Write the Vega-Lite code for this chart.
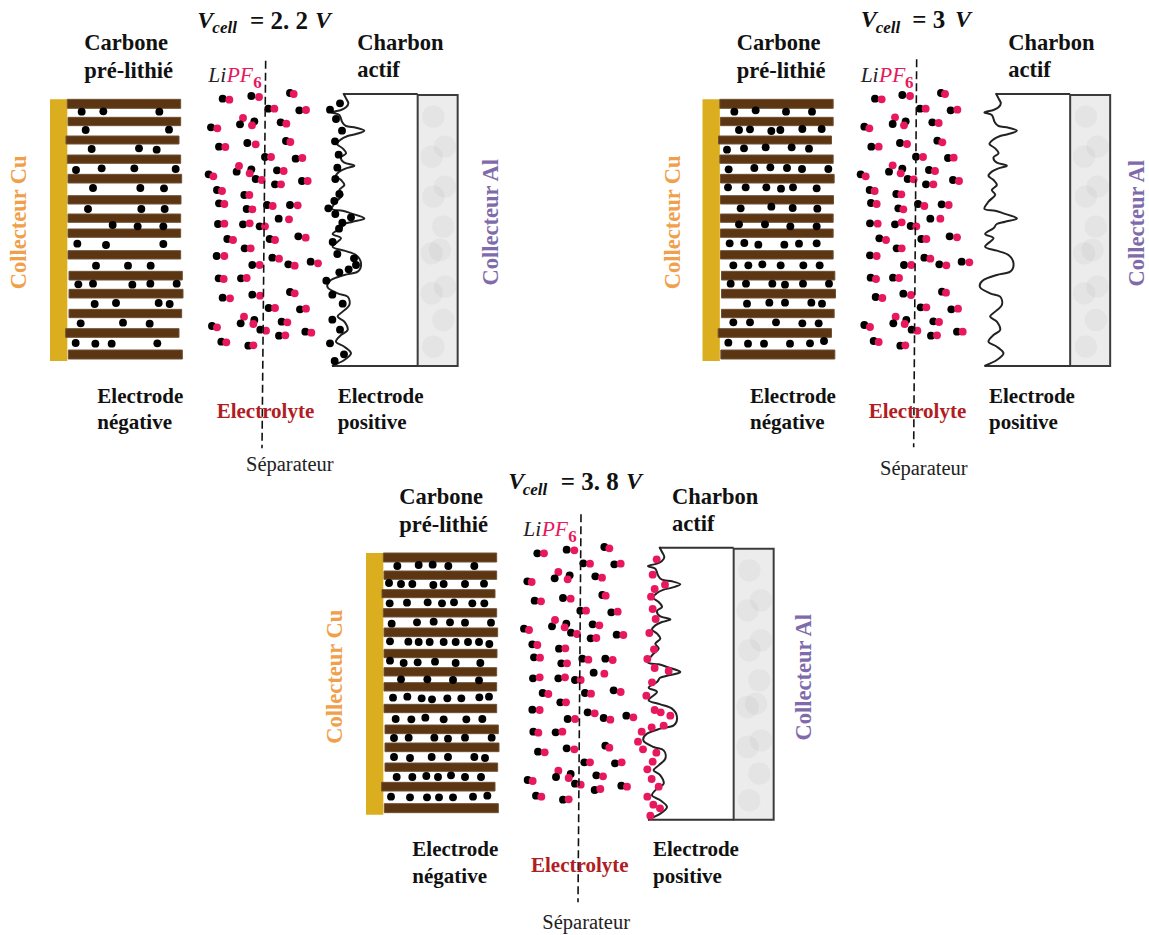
{"$schema":"https://vega.github.io/schema/vega-lite/v6.json","width":1149,"height":935,"padding":0,"autosize":{"type":"none"},"background":"white","config":{"view":{"stroke":null}},
"datasets":{
"collector":[{"x":150,"x2":202,"y":298,"y2":1083}],
"bars":[{"x":202,"x2":542,"y":298,"y2":325},{"x":204,"x2":542,"y":352,"y2":377},{"x":198,"x2":537,"y":408,"y2":432},{"x":202,"x2":542,"y":465,"y2":490},{"x":204,"x2":545,"y":523,"y2":549},{"x":204,"x2":543,"y":587,"y2":612},{"x":204,"x2":542,"y":642,"y2":667},{"x":204,"x2":542,"y":687,"y2":712},{"x":204,"x2":542,"y":752,"y2":777},{"x":207,"x2":547,"y":814,"y2":840},{"x":207,"x2":549,"y":868,"y2":894},{"x":207,"x2":545,"y":928,"y2":953},{"x":197,"x2":537,"y":986,"y2":1012},{"x":205,"x2":547,"y":1050,"y2":1077}],
"white":[{"x":1030,"x2":1253,"y":282,"y2":1098}],
"al":[{"x":1253,"x2":1373,"y":285,"y2":1098}],
"marble":[{"x":1300,"y":350},{"x":1335,"y":440},{"x":1295,"y":470},{"x":1300,"y":590},{"x":1330,"y":680},{"x":1320,"y":750},{"x":1335,"y":860},{"x":1295,"y":880},{"x":1330,"y":960},{"x":1300,"y":1040},{"x":1335,"y":560},{"x":1295,"y":760}],
"edges":[{"x":1030,"x2":1253,"y":282,"y2":282},{"x":996,"x2":1253,"y":1098,"y2":1098}],
"curve":[{"i":1,"x":1030,"y":280},{"i":2,"x":1038,"y":295},{"i":3,"x":1045,"y":310},{"i":4,"x":1038,"y":322},{"i":5,"x":1023,"y":330},{"i":6,"x":996,"y":337},{"i":7,"x":1018,"y":345},{"i":8,"x":1026,"y":365},{"i":9,"x":1038,"y":378},{"i":10,"x":1068,"y":383},{"i":11,"x":1093,"y":392},{"i":12,"x":1068,"y":402},{"i":13,"x":1043,"y":408},{"i":14,"x":1023,"y":418},{"i":15,"x":1011,"y":432},{"i":16,"x":1028,"y":445},{"i":17,"x":1038,"y":460},{"i":18,"x":1023,"y":472},{"i":19,"x":1033,"y":488},{"i":20,"x":1063,"y":497},{"i":21,"x":1038,"y":505},{"i":22,"x":1018,"y":515},{"i":23,"x":1008,"y":528},{"i":24,"x":1023,"y":540},{"i":25,"x":1033,"y":555},{"i":26,"x":1018,"y":570},{"i":27,"x":1028,"y":585},{"i":28,"x":1008,"y":605},{"i":29,"x":996,"y":627},{"i":30,"x":1028,"y":632},{"i":31,"x":1053,"y":640},{"i":32,"x":1093,"y":655},{"i":33,"x":1058,"y":665},{"i":34,"x":1033,"y":672},{"i":35,"x":1023,"y":685},{"i":36,"x":998,"y":702},{"i":37,"x":1023,"y":715},{"i":38,"x":998,"y":740},{"i":39,"x":1033,"y":752},{"i":40,"x":1068,"y":765},{"i":41,"x":1083,"y":790},{"i":42,"x":1073,"y":815},{"i":43,"x":1033,"y":825},{"i":44,"x":993,"y":840},{"i":45,"x":983,"y":862},{"i":46,"x":1013,"y":880},{"i":47,"x":1043,"y":890},{"i":48,"x":1048,"y":915},{"i":49,"x":1028,"y":935},{"i":50,"x":1013,"y":950},{"i":51,"x":1033,"y":965},{"i":52,"x":1043,"y":990},{"i":53,"x":1023,"y":1005},{"i":54,"x":1008,"y":1025},{"i":55,"x":1033,"y":1040},{"i":56,"x":1053,"y":1060},{"i":57,"x":1033,"y":1080},{"i":58,"x":996,"y":1098}],
"d1":[{"x":245,"y":335,"k":"n"},{"x":310,"y":334,"k":"n"},{"x":478,"y":335,"k":"n"},{"x":257,"y":390,"k":"n"},{"x":507,"y":389,"k":"n"},{"x":275,"y":447,"k":"n"},{"x":417,"y":445,"k":"n"},{"x":470,"y":449,"k":"n"},{"x":228,"y":510,"k":"n"},{"x":305,"y":505,"k":"n"},{"x":403,"y":505,"k":"n"},{"x":527,"y":507,"k":"n"},{"x":279,"y":564,"k":"n"},{"x":421,"y":564,"k":"n"},{"x":492,"y":565,"k":"n"},{"x":264,"y":627,"k":"n"},{"x":424,"y":627,"k":"n"},{"x":494,"y":627,"k":"n"},{"x":338,"y":675,"k":"n"},{"x":413,"y":679,"k":"n"},{"x":490,"y":679,"k":"n"},{"x":232,"y":731,"k":"n"},{"x":318,"y":735,"k":"n"},{"x":490,"y":732,"k":"n"},{"x":288,"y":797,"k":"n"},{"x":384,"y":797,"k":"n"},{"x":452,"y":797,"k":"n"},{"x":235,"y":853,"k":"n"},{"x":279,"y":851,"k":"n"},{"x":397,"y":854,"k":"n"},{"x":451,"y":851,"k":"n"},{"x":530,"y":851,"k":"n"},{"x":284,"y":912,"k":"n"},{"x":348,"y":909,"k":"n"},{"x":476,"y":909,"k":"n"},{"x":509,"y":912,"k":"n"},{"x":242,"y":970,"k":"n"},{"x":369,"y":968,"k":"n"},{"x":449,"y":971,"k":"n"},{"x":227,"y":1029,"k":"n"},{"x":286,"y":1031,"k":"n"},{"x":335,"y":1031,"k":"n"},{"x":472,"y":1030,"k":"n"},
{"x":668,"y":296,"k":"n"},{"x":688,"y":299,"k":"p"},{"x":754,"y":288,"k":"n"},{"x":777,"y":291,"k":"p"},{"x":870,"y":279,"k":"n"},{"x":881,"y":282,"k":"p"},{"x":805,"y":326,"k":"n"},{"x":823,"y":326,"k":"p"},{"x":898,"y":331,"k":"n"},{"x":918,"y":330,"k":"p"},{"x":763,"y":364,"k":"n"},{"x":729,"y":354,"k":"p"},{"x":720,"y":373,"k":"n"},{"x":756,"y":376,"k":"p"},{"x":842,"y":367,"k":"n"},{"x":859,"y":371,"k":"p"},{"x":633,"y":382,"k":"n"},{"x":652,"y":385,"k":"p"},{"x":657,"y":440,"k":"n"},{"x":676,"y":441,"k":"p"},{"x":742,"y":429,"k":"n"},{"x":767,"y":433,"k":"p"},{"x":858,"y":423,"k":"n"},{"x":871,"y":426,"k":"p"},{"x":795,"y":471,"k":"n"},{"x":813,"y":471,"k":"p"},{"x":887,"y":476,"k":"n"},{"x":907,"y":474,"k":"p"},{"x":710,"y":515,"k":"n"},{"x":717,"y":498,"k":"p"},{"x":754,"y":508,"k":"n"},{"x":749,"y":520,"k":"p"},{"x":626,"y":523,"k":"n"},{"x":640,"y":529,"k":"p"},{"x":831,"y":511,"k":"n"},{"x":851,"y":513,"k":"p"},{"x":767,"y":537,"k":"n"},{"x":785,"y":540,"k":"p"},{"x":825,"y":553,"k":"n"},{"x":843,"y":553,"k":"p"},{"x":906,"y":543,"k":"n"},{"x":923,"y":543,"k":"p"},{"x":651,"y":570,"k":"n"},{"x":666,"y":573,"k":"p"},{"x":733,"y":585,"k":"n"},{"x":748,"y":585,"k":"p"},{"x":657,"y":610,"k":"n"},{"x":673,"y":612,"k":"p"},{"x":740,"y":627,"k":"n"},{"x":757,"y":628,"k":"p"},{"x":801,"y":615,"k":"n"},{"x":818,"y":618,"k":"p"},{"x":870,"y":615,"k":"n"},{"x":893,"y":616,"k":"p"},{"x":654,"y":672,"k":"n"},{"x":673,"y":671,"k":"p"},{"x":729,"y":673,"k":"n"},{"x":749,"y":670,"k":"p"},{"x":779,"y":679,"k":"n"},{"x":795,"y":679,"k":"p"},{"x":836,"y":656,"k":"n"},{"x":867,"y":658,"k":"p"},{"x":682,"y":717,"k":"n"},{"x":699,"y":720,"k":"p"},{"x":809,"y":717,"k":"n"},{"x":825,"y":720,"k":"p"},{"x":895,"y":709,"k":"n"},{"x":917,"y":713,"k":"p"},{"x":734,"y":745,"k":"n"},{"x":752,"y":745,"k":"p"},{"x":650,"y":768,"k":"n"},{"x":673,"y":768,"k":"p"},{"x":817,"y":773,"k":"n"},{"x":837,"y":776,"k":"p"},{"x":865,"y":793,"k":"n"},{"x":884,"y":797,"k":"p"},{"x":757,"y":795,"k":"n"},{"x":779,"y":795,"k":"p"},{"x":932,"y":785,"k":"n"},{"x":954,"y":790,"k":"p"},{"x":656,"y":835,"k":"n"},{"x":671,"y":837,"k":"p"},{"x":723,"y":835,"k":"n"},{"x":740,"y":834,"k":"p"},{"x":668,"y":893,"k":"n"},{"x":690,"y":895,"k":"p"},{"x":757,"y":884,"k":"n"},{"x":780,"y":887,"k":"p"},{"x":870,"y":876,"k":"n"},{"x":884,"y":880,"k":"p"},{"x":806,"y":924,"k":"n"},{"x":825,"y":924,"k":"p"},{"x":900,"y":928,"k":"n"},{"x":918,"y":926,"k":"p"},{"x":763,"y":960,"k":"n"},{"x":732,"y":950,"k":"p"},{"x":722,"y":970,"k":"n"},{"x":760,"y":972,"k":"p"},{"x":845,"y":965,"k":"n"},{"x":862,"y":967,"k":"p"},{"x":636,"y":978,"k":"n"},{"x":651,"y":982,"k":"p"},{"x":781,"y":989,"k":"n"},{"x":798,"y":992,"k":"p"},{"x":837,"y":1007,"k":"n"},{"x":856,"y":1006,"k":"p"},{"x":916,"y":995,"k":"n"},{"x":934,"y":998,"k":"p"},{"x":664,"y":1025,"k":"n"},{"x":679,"y":1027,"k":"p"},{"x":745,"y":1037,"k":"n"},{"x":760,"y":1036,"k":"p"},
{"x":1020,"y":310,"k":"n"},{"x":990,"y":329,"k":"n"},{"x":1008,"y":357,"k":"n"},{"x":1026,"y":392,"k":"n"},{"x":1005,"y":424,"k":"n"},{"x":1016,"y":464,"k":"n"},{"x":1012,"y":503,"k":"n"},{"x":1006,"y":537,"k":"n"},{"x":1018,"y":582,"k":"n"},{"x":1003,"y":603,"k":"n"},{"x":985,"y":625,"k":"n"},{"x":1006,"y":642,"k":"n"},{"x":1053,"y":652,"k":"n"},{"x":1027,"y":668,"k":"n"},{"x":1017,"y":686,"k":"n"},{"x":998,"y":726,"k":"n"},{"x":1012,"y":762,"k":"n"},{"x":1062,"y":775,"k":"n"},{"x":1068,"y":795,"k":"n"},{"x":1046,"y":808,"k":"n"},{"x":1018,"y":817,"k":"n"},{"x":979,"y":842,"k":"n"},{"x":997,"y":884,"k":"n"},{"x":1028,"y":911,"k":"n"},{"x":997,"y":959,"k":"n"},{"x":1020,"y":989,"k":"n"},{"x":990,"y":1030,"k":"n"},{"x":1032,"y":1063,"k":"n"},{"x":1004,"y":1083,"k":"n"}],
"d2":[{"x":253,"y":335,"k":"n"},{"x":317,"y":331,"k":"n"},{"x":408,"y":335,"k":"n"},{"x":486,"y":335,"k":"n"},{"x":267,"y":390,"k":"n"},{"x":300,"y":388,"k":"n"},{"x":364,"y":393,"k":"n"},{"x":391,"y":390,"k":"n"},{"x":457,"y":387,"k":"n"},{"x":515,"y":387,"k":"n"},{"x":231,"y":449,"k":"n"},{"x":282,"y":445,"k":"n"},{"x":347,"y":442,"k":"n"},{"x":425,"y":442,"k":"n"},{"x":477,"y":446,"k":"n"},{"x":236,"y":508,"k":"n"},{"x":313,"y":504,"k":"n"},{"x":361,"y":502,"k":"n"},{"x":411,"y":504,"k":"n"},{"x":456,"y":507,"k":"n"},{"x":535,"y":507,"k":"n"},{"x":234,"y":562,"k":"n"},{"x":287,"y":562,"k":"n"},{"x":349,"y":562,"k":"n"},{"x":393,"y":566,"k":"n"},{"x":429,"y":562,"k":"n"},{"x":500,"y":565,"k":"n"},{"x":272,"y":625,"k":"n"},{"x":364,"y":620,"k":"n"},{"x":428,"y":624,"k":"n"},{"x":502,"y":626,"k":"n"},{"x":267,"y":673,"k":"n"},{"x":345,"y":673,"k":"n"},{"x":421,"y":679,"k":"n"},{"x":500,"y":679,"k":"n"},{"x":239,"y":730,"k":"n"},{"x":283,"y":729,"k":"n"},{"x":325,"y":734,"k":"n"},{"x":403,"y":734,"k":"n"},{"x":447,"y":731,"k":"n"},{"x":500,"y":730,"k":"n"},{"x":250,"y":796,"k":"n"},{"x":295,"y":796,"k":"n"},{"x":337,"y":793,"k":"n"},{"x":392,"y":796,"k":"n"},{"x":460,"y":796,"k":"n"},{"x":509,"y":796,"k":"n"},{"x":242,"y":851,"k":"n"},{"x":288,"y":851,"k":"n"},{"x":367,"y":851,"k":"n"},{"x":405,"y":854,"k":"n"},{"x":459,"y":851,"k":"n"},{"x":537,"y":851,"k":"n"},{"x":291,"y":911,"k":"n"},{"x":358,"y":908,"k":"n"},{"x":405,"y":908,"k":"n"},{"x":484,"y":908,"k":"n"},{"x":516,"y":911,"k":"n"},{"x":250,"y":967,"k":"n"},{"x":300,"y":967,"k":"n"},{"x":378,"y":967,"k":"n"},{"x":457,"y":970,"k":"n"},{"x":506,"y":970,"k":"n"},{"x":235,"y":1028,"k":"n"},{"x":294,"y":1031,"k":"n"},{"x":342,"y":1031,"k":"n"},{"x":420,"y":1031,"k":"n"},{"x":480,"y":1030,"k":"n"},{"x":522,"y":1023,"k":"n"},
{"x":675,"y":296,"k":"n"},{"x":695,"y":298,"k":"p"},{"x":757,"y":285,"k":"n"},{"x":780,"y":288,"k":"p"},{"x":873,"y":279,"k":"n"},{"x":885,"y":282,"k":"p"},{"x":810,"y":326,"k":"n"},{"x":827,"y":326,"k":"p"},{"x":902,"y":331,"k":"n"},{"x":922,"y":329,"k":"p"},{"x":767,"y":364,"k":"n"},{"x":735,"y":352,"k":"p"},{"x":728,"y":372,"k":"n"},{"x":762,"y":376,"k":"p"},{"x":847,"y":367,"k":"n"},{"x":866,"y":369,"k":"p"},{"x":643,"y":380,"k":"n"},{"x":658,"y":385,"k":"p"},{"x":664,"y":440,"k":"n"},{"x":686,"y":440,"k":"p"},{"x":750,"y":429,"k":"n"},{"x":771,"y":432,"k":"p"},{"x":862,"y":422,"k":"n"},{"x":877,"y":427,"k":"p"},{"x":798,"y":470,"k":"n"},{"x":819,"y":471,"k":"p"},{"x":894,"y":474,"k":"n"},{"x":911,"y":473,"k":"p"},{"x":717,"y":515,"k":"n"},{"x":728,"y":496,"k":"p"},{"x":757,"y":506,"k":"n"},{"x":752,"y":520,"k":"p"},{"x":632,"y":523,"k":"n"},{"x":647,"y":529,"k":"p"},{"x":837,"y":510,"k":"n"},{"x":855,"y":513,"k":"p"},{"x":773,"y":537,"k":"n"},{"x":791,"y":538,"k":"p"},{"x":828,"y":553,"k":"n"},{"x":850,"y":553,"k":"p"},{"x":909,"y":540,"k":"n"},{"x":927,"y":543,"k":"p"},{"x":659,"y":570,"k":"n"},{"x":674,"y":573,"k":"p"},{"x":739,"y":582,"k":"n"},{"x":754,"y":583,"k":"p"},{"x":663,"y":609,"k":"n"},{"x":680,"y":612,"k":"p"},{"x":745,"y":625,"k":"n"},{"x":760,"y":628,"k":"p"},{"x":804,"y":612,"k":"n"},{"x":823,"y":618,"k":"p"},{"x":875,"y":613,"k":"n"},{"x":896,"y":615,"k":"p"},{"x":660,"y":670,"k":"n"},{"x":683,"y":671,"k":"p"},{"x":735,"y":673,"k":"n"},{"x":755,"y":667,"k":"p"},{"x":782,"y":678,"k":"n"},{"x":799,"y":679,"k":"p"},{"x":841,"y":656,"k":"n"},{"x":871,"y":656,"k":"p"},{"x":688,"y":715,"k":"n"},{"x":708,"y":720,"k":"p"},{"x":814,"y":717,"k":"n"},{"x":829,"y":717,"k":"p"},{"x":899,"y":709,"k":"n"},{"x":921,"y":712,"k":"p"},{"x":740,"y":745,"k":"n"},{"x":755,"y":745,"k":"p"},{"x":660,"y":766,"k":"n"},{"x":680,"y":768,"k":"p"},{"x":823,"y":773,"k":"n"},{"x":841,"y":776,"k":"p"},{"x":868,"y":793,"k":"n"},{"x":889,"y":796,"k":"p"},{"x":762,"y":795,"k":"n"},{"x":784,"y":795,"k":"p"},{"x":935,"y":785,"k":"n"},{"x":958,"y":787,"k":"p"},{"x":662,"y":833,"k":"n"},{"x":678,"y":837,"k":"p"},{"x":729,"y":833,"k":"n"},{"x":747,"y":834,"k":"p"},{"x":677,"y":891,"k":"n"},{"x":697,"y":894,"k":"p"},{"x":760,"y":881,"k":"n"},{"x":783,"y":885,"k":"p"},{"x":876,"y":875,"k":"n"},{"x":888,"y":878,"k":"p"},{"x":812,"y":922,"k":"n"},{"x":829,"y":922,"k":"p"},{"x":904,"y":928,"k":"n"},{"x":924,"y":926,"k":"p"},{"x":769,"y":960,"k":"n"},{"x":737,"y":950,"k":"p"},{"x":730,"y":970,"k":"n"},{"x":764,"y":972,"k":"p"},{"x":850,"y":964,"k":"n"},{"x":867,"y":966,"k":"p"},{"x":643,"y":975,"k":"n"},{"x":660,"y":981,"k":"p"},{"x":785,"y":989,"k":"n"},{"x":802,"y":992,"k":"p"},{"x":843,"y":1007,"k":"n"},{"x":861,"y":1006,"k":"p"},{"x":921,"y":995,"k":"n"},{"x":938,"y":995,"k":"p"},{"x":671,"y":1023,"k":"n"},{"x":686,"y":1026,"k":"p"},{"x":751,"y":1037,"k":"n"},{"x":766,"y":1036,"k":"p"}],
"d3":[{"x":232,"y":303,"k":"n"},{"x":296,"y":300,"k":"n"},{"x":338,"y":299,"k":"n"},{"x":385,"y":303,"k":"n"},{"x":463,"y":303,"k":"n"},{"x":207,"y":354,"k":"n"},{"x":243,"y":357,"k":"n"},{"x":277,"y":357,"k":"n"},{"x":340,"y":360,"k":"n"},{"x":371,"y":357,"k":"n"},{"x":435,"y":357,"k":"n"},{"x":492,"y":356,"k":"n"},{"x":209,"y":415,"k":"n"},{"x":261,"y":413,"k":"n"},{"x":323,"y":412,"k":"n"},{"x":366,"y":415,"k":"n"},{"x":402,"y":412,"k":"n"},{"x":457,"y":415,"k":"n"},{"x":493,"y":415,"k":"n"},{"x":215,"y":476,"k":"n"},{"x":291,"y":472,"k":"n"},{"x":341,"y":470,"k":"n"},{"x":390,"y":472,"k":"n"},{"x":435,"y":473,"k":"n"},{"x":513,"y":473,"k":"n"},{"x":210,"y":529,"k":"n"},{"x":265,"y":530,"k":"n"},{"x":296,"y":531,"k":"n"},{"x":329,"y":531,"k":"n"},{"x":371,"y":531,"k":"n"},{"x":407,"y":531,"k":"n"},{"x":444,"y":531,"k":"n"},{"x":477,"y":531,"k":"n"},{"x":508,"y":537,"k":"n"},{"x":210,"y":587,"k":"n"},{"x":251,"y":594,"k":"n"},{"x":293,"y":592,"k":"n"},{"x":345,"y":590,"k":"n"},{"x":407,"y":594,"k":"n"},{"x":481,"y":594,"k":"n"},{"x":243,"y":643,"k":"n"},{"x":322,"y":643,"k":"n"},{"x":399,"y":645,"k":"n"},{"x":477,"y":646,"k":"n"},{"x":219,"y":698,"k":"n"},{"x":262,"y":695,"k":"n"},{"x":305,"y":700,"k":"n"},{"x":336,"y":703,"k":"n"},{"x":382,"y":700,"k":"n"},{"x":424,"y":700,"k":"n"},{"x":478,"y":697,"k":"n"},{"x":507,"y":695,"k":"n"},{"x":227,"y":762,"k":"n"},{"x":274,"y":763,"k":"n"},{"x":316,"y":758,"k":"n"},{"x":371,"y":763,"k":"n"},{"x":439,"y":763,"k":"n"},{"x":487,"y":762,"k":"n"},{"x":222,"y":819,"k":"n"},{"x":266,"y":818,"k":"n"},{"x":343,"y":818,"k":"n"},{"x":384,"y":821,"k":"n"},{"x":435,"y":818,"k":"n"},{"x":515,"y":818,"k":"n"},{"x":222,"y":876,"k":"n"},{"x":270,"y":879,"k":"n"},{"x":335,"y":876,"k":"n"},{"x":384,"y":876,"k":"n"},{"x":463,"y":876,"k":"n"},{"x":495,"y":879,"k":"n"},{"x":230,"y":936,"k":"n"},{"x":277,"y":936,"k":"n"},{"x":319,"y":933,"k":"n"},{"x":354,"y":936,"k":"n"},{"x":393,"y":931,"k":"n"},{"x":435,"y":936,"k":"n"},{"x":483,"y":936,"k":"n"},{"x":213,"y":995,"k":"n"},{"x":270,"y":997,"k":"n"},{"x":321,"y":997,"k":"n"},{"x":357,"y":997,"k":"n"},{"x":399,"y":997,"k":"n"},{"x":459,"y":995,"k":"n"},{"x":502,"y":992,"k":"n"},
{"x":652,"y":265,"k":"n"},{"x":672,"y":265,"k":"p"},{"x":740,"y":254,"k":"n"},{"x":763,"y":256,"k":"p"},{"x":853,"y":246,"k":"n"},{"x":868,"y":250,"k":"p"},{"x":790,"y":295,"k":"n"},{"x":810,"y":296,"k":"p"},{"x":883,"y":298,"k":"n"},{"x":902,"y":296,"k":"p"},{"x":749,"y":331,"k":"n"},{"x":715,"y":321,"k":"p"},{"x":704,"y":340,"k":"n"},{"x":743,"y":343,"k":"p"},{"x":826,"y":334,"k":"n"},{"x":846,"y":338,"k":"p"},{"x":622,"y":349,"k":"n"},{"x":635,"y":351,"k":"p"},{"x":644,"y":407,"k":"n"},{"x":663,"y":409,"k":"p"},{"x":729,"y":399,"k":"n"},{"x":752,"y":401,"k":"p"},{"x":847,"y":390,"k":"n"},{"x":857,"y":392,"k":"p"},{"x":781,"y":437,"k":"n"},{"x":798,"y":437,"k":"p"},{"x":874,"y":442,"k":"n"},{"x":893,"y":440,"k":"p"},{"x":696,"y":484,"k":"n"},{"x":705,"y":465,"k":"p"},{"x":739,"y":476,"k":"n"},{"x":734,"y":487,"k":"p"},{"x":612,"y":491,"k":"n"},{"x":627,"y":495,"k":"p"},{"x":818,"y":478,"k":"n"},{"x":838,"y":481,"k":"p"},{"x":753,"y":503,"k":"n"},{"x":771,"y":507,"k":"p"},{"x":812,"y":520,"k":"n"},{"x":829,"y":519,"k":"p"},{"x":890,"y":509,"k":"n"},{"x":910,"y":510,"k":"p"},{"x":637,"y":538,"k":"n"},{"x":652,"y":540,"k":"p"},{"x":717,"y":551,"k":"n"},{"x":736,"y":550,"k":"p"},{"x":642,"y":577,"k":"n"},{"x":660,"y":578,"k":"p"},{"x":724,"y":595,"k":"n"},{"x":741,"y":595,"k":"p"},{"x":787,"y":581,"k":"n"},{"x":805,"y":584,"k":"p"},{"x":856,"y":581,"k":"n"},{"x":878,"y":585,"k":"p"},{"x":639,"y":640,"k":"n"},{"x":659,"y":637,"k":"p"},{"x":715,"y":640,"k":"n"},{"x":735,"y":637,"k":"p"},{"x":765,"y":645,"k":"n"},{"x":782,"y":645,"k":"p"},{"x":821,"y":623,"k":"n"},{"x":853,"y":626,"k":"p"},{"x":668,"y":684,"k":"n"},{"x":685,"y":687,"k":"p"},{"x":795,"y":684,"k":"n"},{"x":813,"y":686,"k":"p"},{"x":881,"y":676,"k":"n"},{"x":902,"y":681,"k":"p"},{"x":721,"y":712,"k":"n"},{"x":738,"y":712,"k":"p"},{"x":637,"y":734,"k":"n"},{"x":659,"y":735,"k":"p"},{"x":803,"y":742,"k":"n"},{"x":824,"y":745,"k":"p"},{"x":851,"y":759,"k":"n"},{"x":871,"y":764,"k":"p"},{"x":743,"y":762,"k":"n"},{"x":765,"y":762,"k":"p"},{"x":919,"y":752,"k":"n"},{"x":940,"y":757,"k":"p"},{"x":640,"y":800,"k":"n"},{"x":655,"y":803,"k":"p"},{"x":707,"y":802,"k":"n"},{"x":727,"y":800,"k":"p"},{"x":654,"y":860,"k":"n"},{"x":674,"y":862,"k":"p"},{"x":740,"y":850,"k":"n"},{"x":763,"y":853,"k":"p"},{"x":856,"y":842,"k":"n"},{"x":868,"y":848,"k":"p"},{"x":793,"y":892,"k":"n"},{"x":810,"y":892,"k":"p"},{"x":885,"y":895,"k":"n"},{"x":905,"y":892,"k":"p"},{"x":752,"y":927,"k":"n"},{"x":715,"y":917,"k":"p"},{"x":708,"y":936,"k":"n"},{"x":746,"y":939,"k":"p"},{"x":829,"y":931,"k":"n"},{"x":849,"y":934,"k":"p"},{"x":623,"y":945,"k":"n"},{"x":638,"y":948,"k":"p"},{"x":765,"y":956,"k":"n"},{"x":782,"y":959,"k":"p"},{"x":824,"y":975,"k":"n"},{"x":841,"y":972,"k":"p"},{"x":904,"y":962,"k":"n"},{"x":921,"y":965,"k":"p"},{"x":648,"y":992,"k":"n"},{"x":664,"y":995,"k":"p"},{"x":729,"y":1004,"k":"n"},{"x":746,"y":1003,"k":"p"},
{"x":1010,"y":283,"k":"p"},{"x":998,"y":329,"k":"p"},{"x":1035,"y":359,"k":"p"},{"x":1004,"y":372,"k":"p"},{"x":993,"y":395,"k":"p"},{"x":998,"y":432,"k":"p"},{"x":1007,"y":462,"k":"p"},{"x":988,"y":504,"k":"p"},{"x":1002,"y":553,"k":"p"},{"x":982,"y":582,"k":"p"},{"x":1004,"y":609,"k":"p"},{"x":1046,"y":618,"k":"p"},{"x":996,"y":652,"k":"p"},{"x":979,"y":692,"k":"p"},{"x":1004,"y":735,"k":"p"},{"x":1022,"y":742,"k":"p"},{"x":1051,"y":752,"k":"p"},{"x":1031,"y":782,"k":"p"},{"x":995,"y":787,"k":"p"},{"x":965,"y":800,"k":"p"},{"x":954,"y":830,"k":"p"},{"x":969,"y":853,"k":"p"},{"x":1009,"y":863,"k":"p"},{"x":998,"y":890,"k":"p"},{"x":982,"y":913,"k":"p"},{"x":995,"y":942,"k":"p"},{"x":1016,"y":965,"k":"p"},{"x":982,"y":995,"k":"p"},{"x":1000,"y":1019,"k":"p"},{"x":1020,"y":1030,"k":"p"},{"x":991,"y":1052,"k":"p"}],
"sep":[{"x":797,"x2":786,"y":182,"y2":1345},{"x":2750,"x2":2741,"y":178,"y2":1342},{"x":1743,"x2":1734,"y":1543,"y2":2707}],
"big":[{"x":253,"y":128,"t":"Carbone"},{"x":253,"y":212,"t":"pré-lithié"},{"x":1072,"y":128,"t":"Charbon"},{"x":1072,"y":210,"t":"actif"},{"x":2210,"y":128,"t":"Carbone"},{"x":2210,"y":212,"t":"pré-lithié"},{"x":3025,"y":128,"t":"Charbon"},{"x":3025,"y":210,"t":"actif"},{"x":1198,"y":1492,"t":"Carbone"},{"x":1198,"y":1575,"t":"pré-lithié"},{"x":2016,"y":1492,"t":"Charbon"},{"x":2016,"y":1573,"t":"actif"}],
"mid":[{"x":292,"y":1190,"t":"Electrode"},{"x":292,"y":1268,"t":"négative"},{"x":1013,"y":1190,"t":"Electrode"},{"x":1013,"y":1268,"t":"positive"},{"x":2250,"y":1190,"t":"Electrode"},{"x":2250,"y":1268,"t":"négative"},{"x":2967,"y":1190,"t":"Electrode"},{"x":2967,"y":1268,"t":"positive"},{"x":1237,"y":2551,"t":"Electrode"},{"x":1237,"y":2630,"t":"négative"},{"x":1959,"y":2551,"t":"Electrode"},{"x":1959,"y":2630,"t":"positive"}],
"red":[{"x":650,"y":1236,"t":"Electrolyte"},{"x":2606,"y":1236,"t":"Electrolyte"},{"x":1593,"y":2599,"t":"Electrolyte"}],
"sepl":[{"x":738,"y":1395,"t":"Séparateur"},{"x":2640,"y":1408,"t":"Séparateur"},{"x":1627,"y":2770,"t":"Séparateur"}],
"cu":[{"x":58,"y":667,"t":"Collecteur Cu"},{"x":2018,"y":667,"t":"Collecteur Cu"},{"x":1006,"y":2030,"t":"Collecteur Cu"}],
"alt":[{"x":1473,"y":667,"t":"Collecteur Al"},{"x":3412,"y":670,"t":"Collecteur Al"},{"x":2413,"y":2032,"t":"Collecteur Al"}],
"vi":[{"x":592,"y":62,"t":"V"},{"x":945,"y":62,"t":"V"},{"x":2582,"y":60,"t":"V"},{"x":2865,"y":60,"t":"V"},{"x":1525,"y":1447,"t":"V"},{"x":1878,"y":1447,"t":"V"}],
"vs":[{"x":637,"y":85,"t":"cell"},{"x":2627,"y":83,"t":"cell"},{"x":1568,"y":1470,"t":"cell"}],
"vn":[{"x":750,"y":62,"t":"= 2. 2"},{"x":2737,"y":60,"t":"= 3"},{"x":1682,"y":1447,"t":"= 3. 8"}],
"li":[{"x":625,"y":228,"t":"Li"},{"x":2582,"y":228,"t":"Li"},{"x":1570,"y":1590,"t":"Li"}],
"pf":[{"x":680,"y":228,"t":"PF"},{"x":2637,"y":228,"t":"PF"},{"x":1625,"y":1590,"t":"PF"}],
"six":[{"x":760,"y":248,"t":"6"},{"x":2715,"y":248,"t":"6"},{"x":1705,"y":1610,"t":"6"}]
},
"resolve":{"scale":{"x":"independent","y":"independent"}},
"layer":[
{"encoding":{"x":{"field":"x","type":"quantitative","scale":{"domain":[0,3447]},"axis":null},"y":{"field":"y","type":"quantitative","scale":{"domain":[2805,0]},"axis":null}},
"layer":[
{"data":{"name":"collector"},"mark":{"type":"rect","fill":"#dbae20"},"encoding":{"x2":{"field":"x2"},"y2":{"field":"y2"}}},
{"data":{"name":"bars"},"mark":{"type":"rect","fill":"#5c3512","stroke":"#6f5236","strokeWidth":1},"encoding":{"x2":{"field":"x2"},"y2":{"field":"y2"}}},
{"data":{"name":"white"},"mark":{"type":"rect","fill":"#ffffff"},"encoding":{"x2":{"field":"x2"},"y2":{"field":"y2"}}},
{"data":{"name":"al"},"mark":{"type":"rect","fill":"#ececec","stroke":"#3c3c3c","strokeWidth":2},"encoding":{"x2":{"field":"x2"},"y2":{"field":"y2"}}},
{"data":{"name":"marble"},"mark":{"type":"point","filled":true,"size":500,"opacity":0.1,"color":"#a0a0a0"}},
{"data":{"name":"edges"},"mark":{"type":"rule","color":"#333333","strokeWidth":2},"encoding":{"x2":{"field":"x2"},"y2":{"field":"y2"}}},
{"data":{"name":"curve"},"mark":{"type":"line","color":"#222222","strokeWidth":2,"interpolate":"cardinal"},"encoding":{"order":{"field":"i"}}}
]},
{"encoding":{"x":{"field":"x","type":"quantitative","scale":{"domain":[-1957.5,1489.5]},"axis":null},"y":{"field":"y","type":"quantitative","scale":{"domain":[2805,0]},"axis":null}},
"layer":[
{"data":{"name":"collector"},"mark":{"type":"rect","fill":"#dbae20"},"encoding":{"x2":{"field":"x2"},"y2":{"field":"y2"}}},
{"data":{"name":"bars"},"mark":{"type":"rect","fill":"#5c3512","stroke":"#6f5236","strokeWidth":1},"encoding":{"x2":{"field":"x2"},"y2":{"field":"y2"}}},
{"data":{"name":"white"},"mark":{"type":"rect","fill":"#ffffff"},"encoding":{"x2":{"field":"x2"},"y2":{"field":"y2"}}},
{"data":{"name":"al"},"mark":{"type":"rect","fill":"#ececec","stroke":"#3c3c3c","strokeWidth":2},"encoding":{"x2":{"field":"x2"},"y2":{"field":"y2"}}},
{"data":{"name":"marble"},"mark":{"type":"point","filled":true,"size":500,"opacity":0.1,"color":"#a0a0a0"}},
{"data":{"name":"edges"},"mark":{"type":"rule","color":"#333333","strokeWidth":2},"encoding":{"x2":{"field":"x2"},"y2":{"field":"y2"}}},
{"data":{"name":"curve"},"mark":{"type":"line","color":"#222222","strokeWidth":2,"interpolate":"cardinal"},"encoding":{"order":{"field":"i"}}}
]},
{"encoding":{"x":{"field":"x","type":"quantitative","scale":{"domain":[-948,2499]},"axis":null},"y":{"field":"y","type":"quantitative","scale":{"domain":[1444,-1361]},"axis":null}},
"layer":[
{"data":{"name":"collector"},"mark":{"type":"rect","fill":"#dbae20"},"encoding":{"x2":{"field":"x2"},"y2":{"field":"y2"}}},
{"data":{"name":"bars"},"mark":{"type":"rect","fill":"#5c3512","stroke":"#6f5236","strokeWidth":1},"encoding":{"x2":{"field":"x2"},"y2":{"field":"y2"}}},
{"data":{"name":"white"},"mark":{"type":"rect","fill":"#ffffff"},"encoding":{"x2":{"field":"x2"},"y2":{"field":"y2"}}},
{"data":{"name":"al"},"mark":{"type":"rect","fill":"#ececec","stroke":"#3c3c3c","strokeWidth":2},"encoding":{"x2":{"field":"x2"},"y2":{"field":"y2"}}},
{"data":{"name":"marble"},"mark":{"type":"point","filled":true,"size":500,"opacity":0.1,"color":"#a0a0a0"}},
{"data":{"name":"edges"},"mark":{"type":"rule","color":"#333333","strokeWidth":2},"encoding":{"x2":{"field":"x2"},"y2":{"field":"y2"}}},
{"data":{"name":"curve"},"mark":{"type":"line","color":"#222222","strokeWidth":2,"interpolate":"cardinal"},"encoding":{"order":{"field":"i"}}}
]},
{"data":{"name":"d1"},"mark":{"type":"point","filled":true,"size":62,"opacity":1},"encoding":{"x":{"field":"x","type":"quantitative","scale":{"domain":[0,3447]},"axis":null},"y":{"field":"y","type":"quantitative","scale":{"domain":[2805,0]},"axis":null},"color":{"field":"k","type":"nominal","legend":null,"scale":{"domain":["n","p"],"range":["#000000","#e8185e"]}}}},
{"data":{"name":"d2"},"mark":{"type":"point","filled":true,"size":62,"opacity":1},"encoding":{"x":{"field":"x","type":"quantitative","scale":{"domain":[-1950,1497]},"axis":null},"y":{"field":"y","type":"quantitative","scale":{"domain":[2805,0]},"axis":null},"color":{"field":"k","type":"nominal","legend":null,"scale":{"domain":["n","p"],"range":["#000000","#e8185e"]}}}},
{"data":{"name":"d3"},"mark":{"type":"point","filled":true,"size":62,"opacity":1},"encoding":{"x":{"field":"x","type":"quantitative","scale":{"domain":[-960,2487]},"axis":null},"y":{"field":"y","type":"quantitative","scale":{"domain":[1410,-1395]},"axis":null},"color":{"field":"k","type":"nominal","legend":null,"scale":{"domain":["n","p"],"range":["#000000","#e8185e"]}}}},
{"encoding":{"x":{"field":"x","type":"quantitative","scale":{"domain":[0,3447]},"axis":null},"y":{"field":"y","type":"quantitative","scale":{"domain":[2805,0]},"axis":null}},
"layer":[
{"data":{"name":"sep"},"mark":{"type":"rule","color":"#111111","strokeWidth":1.6,"strokeDash":[8,4]},"encoding":{"x2":{"field":"x2"},"y2":{"field":"y2"}}},
{"data":{"name":"big"},"mark":{"type":"text","align":"left","baseline":"middle","font":"Liberation Serif","fontWeight":"bold","fontSize":22.5,"color":"#111111"},"encoding":{"text":{"field":"t"}}},
{"data":{"name":"mid"},"mark":{"type":"text","align":"left","baseline":"middle","font":"Liberation Serif","fontWeight":"bold","fontSize":21,"color":"#111111"},"encoding":{"text":{"field":"t"}}},
{"data":{"name":"red"},"mark":{"type":"text","align":"left","baseline":"middle","font":"Liberation Serif","fontWeight":"bold","fontSize":21,"color":"#b01e23"},"encoding":{"text":{"field":"t"}}},
{"data":{"name":"sepl"},"mark":{"type":"text","align":"left","baseline":"middle","font":"Liberation Serif","fontSize":20.5,"color":"#222222"},"encoding":{"text":{"field":"t"}}},
{"data":{"name":"cu"},"mark":{"type":"text","align":"center","baseline":"middle","angle":270,"font":"Liberation Serif","fontWeight":"bold","fontSize":22.5,"color":"#f0a04b"},"encoding":{"text":{"field":"t"}}},
{"data":{"name":"alt"},"mark":{"type":"text","align":"center","baseline":"middle","angle":270,"font":"Liberation Serif","fontWeight":"bold","fontSize":22.5,"color":"#7f6bab"},"encoding":{"text":{"field":"t"}}},
{"data":{"name":"vi"},"mark":{"type":"text","align":"left","baseline":"middle","font":"Liberation Serif","fontWeight":"bold","fontStyle":"italic","fontSize":24,"color":"#111111"},"encoding":{"text":{"field":"t"}}},
{"data":{"name":"vs"},"mark":{"type":"text","align":"left","baseline":"middle","font":"Liberation Serif","fontWeight":"bold","fontStyle":"italic","fontSize":17,"color":"#111111"},"encoding":{"text":{"field":"t"}}},
{"data":{"name":"vn"},"mark":{"type":"text","align":"left","baseline":"middle","font":"Liberation Serif","fontWeight":"bold","fontSize":25,"color":"#111111"},"encoding":{"text":{"field":"t"}}},
{"data":{"name":"li"},"mark":{"type":"text","align":"left","baseline":"middle","font":"Liberation Serif","fontStyle":"italic","fontSize":21.5,"color":"#222222"},"encoding":{"text":{"field":"t"}}},
{"data":{"name":"pf"},"mark":{"type":"text","align":"left","baseline":"middle","font":"Liberation Serif","fontStyle":"italic","fontSize":21.5,"color":"#e8185e"},"encoding":{"text":{"field":"t"}}},
{"data":{"name":"six"},"mark":{"type":"text","align":"left","baseline":"middle","font":"Liberation Serif","fontWeight":"bold","fontSize":17,"color":"#e8185e"},"encoding":{"text":{"field":"t"}}}
]}
]}
